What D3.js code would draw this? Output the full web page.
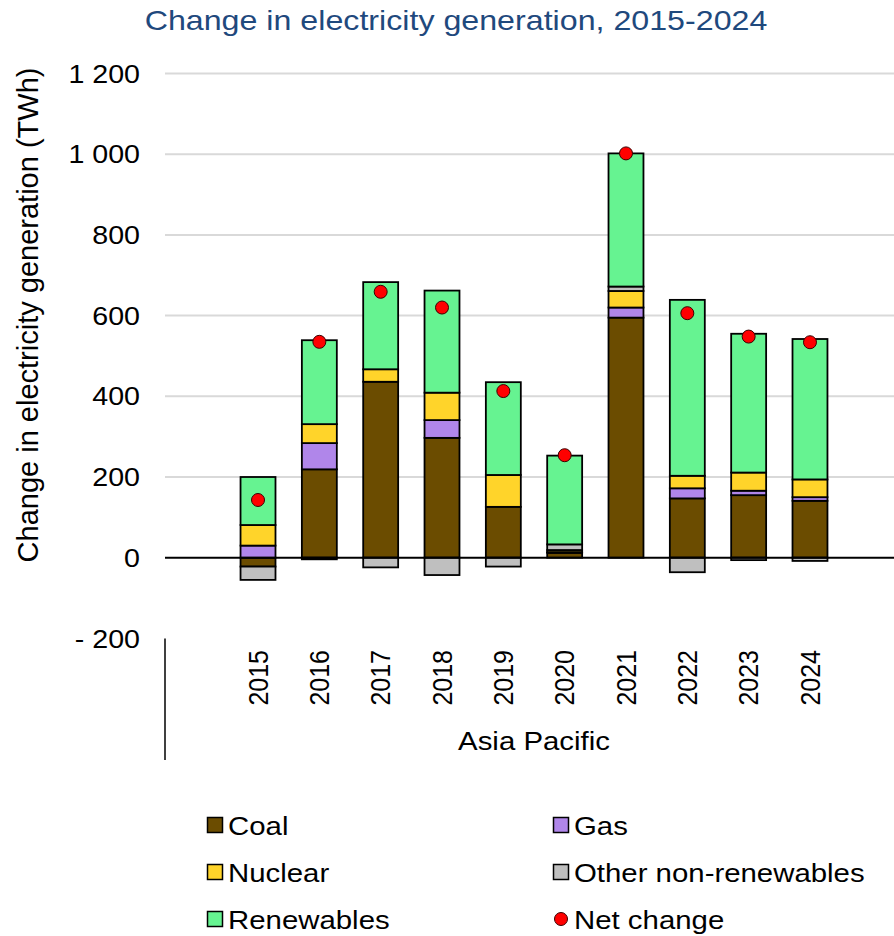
<!DOCTYPE html>
<html>
<head>
<meta charset="utf-8">
<script src="https://cdn.jsdelivr.net/npm/d3@7/dist/d3.min.js"></script>
<style>
  html, body { margin: 0; padding: 0; background: #fff; }
  svg { display: block; font-family: "Liberation Sans", Arial, sans-serif; }
</style>
</head>
<body>
<svg id="chart" width="894" height="936"></svg>
<script>
// ---- data ----
const years = ["2015","2016","2017","2018","2019","2020","2021","2022","2023","2024"];
const coal       = [-22, 219, 436, 297, 126, 12, 595, 147, 155, 141];
const gas        = [30, 65, 0, 44, 0, 2, 25, 25, 11, 9];
const nuclear    = [51, 47, 31, 68, 79, 5, 41, 31, 45, 44];
const otherNonRe = [-33, -4, -24, -43, -22, 14, 11, -36, -6, -8];
const renewables = [119, 208, 216, 253, 230, 220, 330, 436, 344, 348];
const netChange  = [143, 535, 659, 620, 413, 254, 1002, 606, 548, 534];
const seriesNames = ["Coal", "Gas", "Nuclear", "Other non-renewables", "Renewables"];
const yTicks = [-200, 0, 200, 400, 600, 800, 1000, 1200];
const yTickLabels = ["- 200", "0", "200", "400", "600", "800", "1 000", "1 200"];
const groupLabel = "Asia Pacific";
const titleText = "Change in electricity generation, 2015-2024";
const yAxisTitle = "Change in electricity generation (TWh)";

const colors = {
  "Coal": "#6B4C00",
  "Gas": "#B086EA",
  "Nuclear": "#FFD42A",
  "Other non-renewables": "#BFBFBF",
  "Renewables": "#66F391"
};

const rows = years.map((y, i) => ({
  year: y,
  "Coal": coal[i], "Gas": gas[i], "Nuclear": nuclear[i],
  "Other non-renewables": otherNonRe[i], "Renewables": renewables[i],
  net: netChange[i]
}));

const svg = d3.select("#chart");
const SX = 1.13; // horizontal glyph stretch seen in reference

const plotLeft = 165, plotRight = 894;
const y = d3.scaleLinear().domain([-200, 1200]).range([638.4, 73.5]);
const x = d3.scaleBand().domain(years).range([227.35, 840.65]).paddingInner(0.43).paddingOuter(0.215);

// title
svg.append("text")
  .attr("transform", `translate(456,30) scale(${SX},1)`)
  .attr("text-anchor", "middle")
  .attr("font-size", 28.5)
  .attr("fill", "#1F497D")
  .text(titleText);

// gridlines
svg.append("g").selectAll("line")
  .data(yTicks.filter(t => t !== 0 && t !== -200))
  .join("line")
  .attr("x1", plotLeft).attr("x2", plotRight)
  .attr("y1", d => y(d)).attr("y2", d => y(d))
  .attr("stroke", "#D9D9D9").attr("stroke-width", 2);

// y tick labels
svg.append("g").selectAll("text")
  .data(yTicks)
  .join("text")
  .attr("transform", d => `translate(140,${y(d)}) scale(1.08,1)`)
  .attr("text-anchor", "end")
  .attr("dominant-baseline", "central")
  .attr("font-size", 26.5)
  .attr("fill", "#000")
  .text((d, i) => yTickLabels[i]);

// y axis title
svg.append("text")
  .attr("transform", `translate(28,315) rotate(-90)`)
  .attr("text-anchor", "middle")
  .attr("dominant-baseline", "central")
  .attr("font-size", 29)
  .attr("fill", "#000")
  .text(yAxisTitle);

// stacked bars
const stack = d3.stack().keys(seriesNames).offset(d3.stackOffsetDiverging);
const stacked = stack(rows);

const barG = svg.append("g");
stacked.forEach(layer => {
  barG.append("g")
    .selectAll("rect")
    .data(layer.filter(d => d[1] - d[0] !== 0))
    .join("rect")
    .attr("x", d => x(d.data.year))
    .attr("width", x.bandwidth())
    .attr("y", d => y(Math.max(d[0], d[1])))
    .attr("height", d => Math.abs(y(d[0]) - y(d[1])))
    .attr("fill", colors[layer.key])
    .attr("stroke", "#000")
    .attr("stroke-width", 1.8);
});

// zero line
svg.append("line")
  .attr("x1", plotLeft).attr("x2", plotRight)
  .attr("y1", y(0)).attr("y2", y(0))
  .attr("stroke", "#000").attr("stroke-width", 2);

// net change dots
svg.append("g").selectAll("circle")
  .data(rows)
  .join("circle")
  .attr("cx", d => x(d.year) + x.bandwidth() / 2)
  .attr("cy", d => y(d.net))
  .attr("r", 6.5)
  .attr("fill", "#FF0000")
  .attr("stroke", "#3a0000")
  .attr("stroke-width", 1);

// category axis separator line
svg.append("line")
  .attr("x1", plotLeft).attr("x2", plotLeft)
  .attr("y1", y(-200)).attr("y2", 760)
  .attr("stroke", "#000").attr("stroke-width", 1.5);

// year labels
svg.append("g").selectAll("text")
  .data(years)
  .join("text")
  .attr("transform", d => `translate(${x(d) + x.bandwidth() / 2},650) rotate(-90) scale(1,${SX})`)
  .attr("text-anchor", "end")
  .attr("dominant-baseline", "central")
  .attr("font-size", 25)
  .attr("fill", "#000")
  .text(d => d);

// group label
svg.append("text")
  .attr("transform", `translate(534,750) scale(${SX},1)`)
  .attr("text-anchor", "middle")
  .attr("font-size", 26)
  .attr("fill", "#000")
  .text(groupLabel);

// legend
const legendItems = [
  { name: "Coal", type: "rect", col: 0, row: 0 },
  { name: "Gas", type: "rect", col: 1, row: 0 },
  { name: "Nuclear", type: "rect", col: 0, row: 1 },
  { name: "Other non-renewables", type: "rect", col: 1, row: 1 },
  { name: "Renewables", type: "rect", col: 0, row: 2 },
  { name: "Net change", type: "dot", col: 1, row: 2 }
];
const colX = [215, 561];
const rowY = [825, 872, 919];
const lg = svg.append("g");
legendItems.forEach(it => {
  const cx = colX[it.col], cy = rowY[it.row];
  if (it.type === "rect") {
    lg.append("rect")
      .attr("x", cx - 7.5).attr("y", cy - 7.5)
      .attr("width", 15).attr("height", 15)
      .attr("fill", colors[it.name])
      .attr("stroke", "#000").attr("stroke-width", 1.5);
  } else {
    lg.append("circle")
      .attr("cx", cx).attr("cy", cy).attr("r", 6.5)
      .attr("fill", "#FF0000").attr("stroke", "#3a0000").attr("stroke-width", 1);
  }
  lg.append("text")
    .attr("transform", `translate(${cx + 13},${cy + 1}) scale(${SX},1)`)
    .attr("dominant-baseline", "central")
    .attr("font-size", 26)
    .attr("fill", "#000")
    .text(it.name);
});
</script>
</body>
</html>
